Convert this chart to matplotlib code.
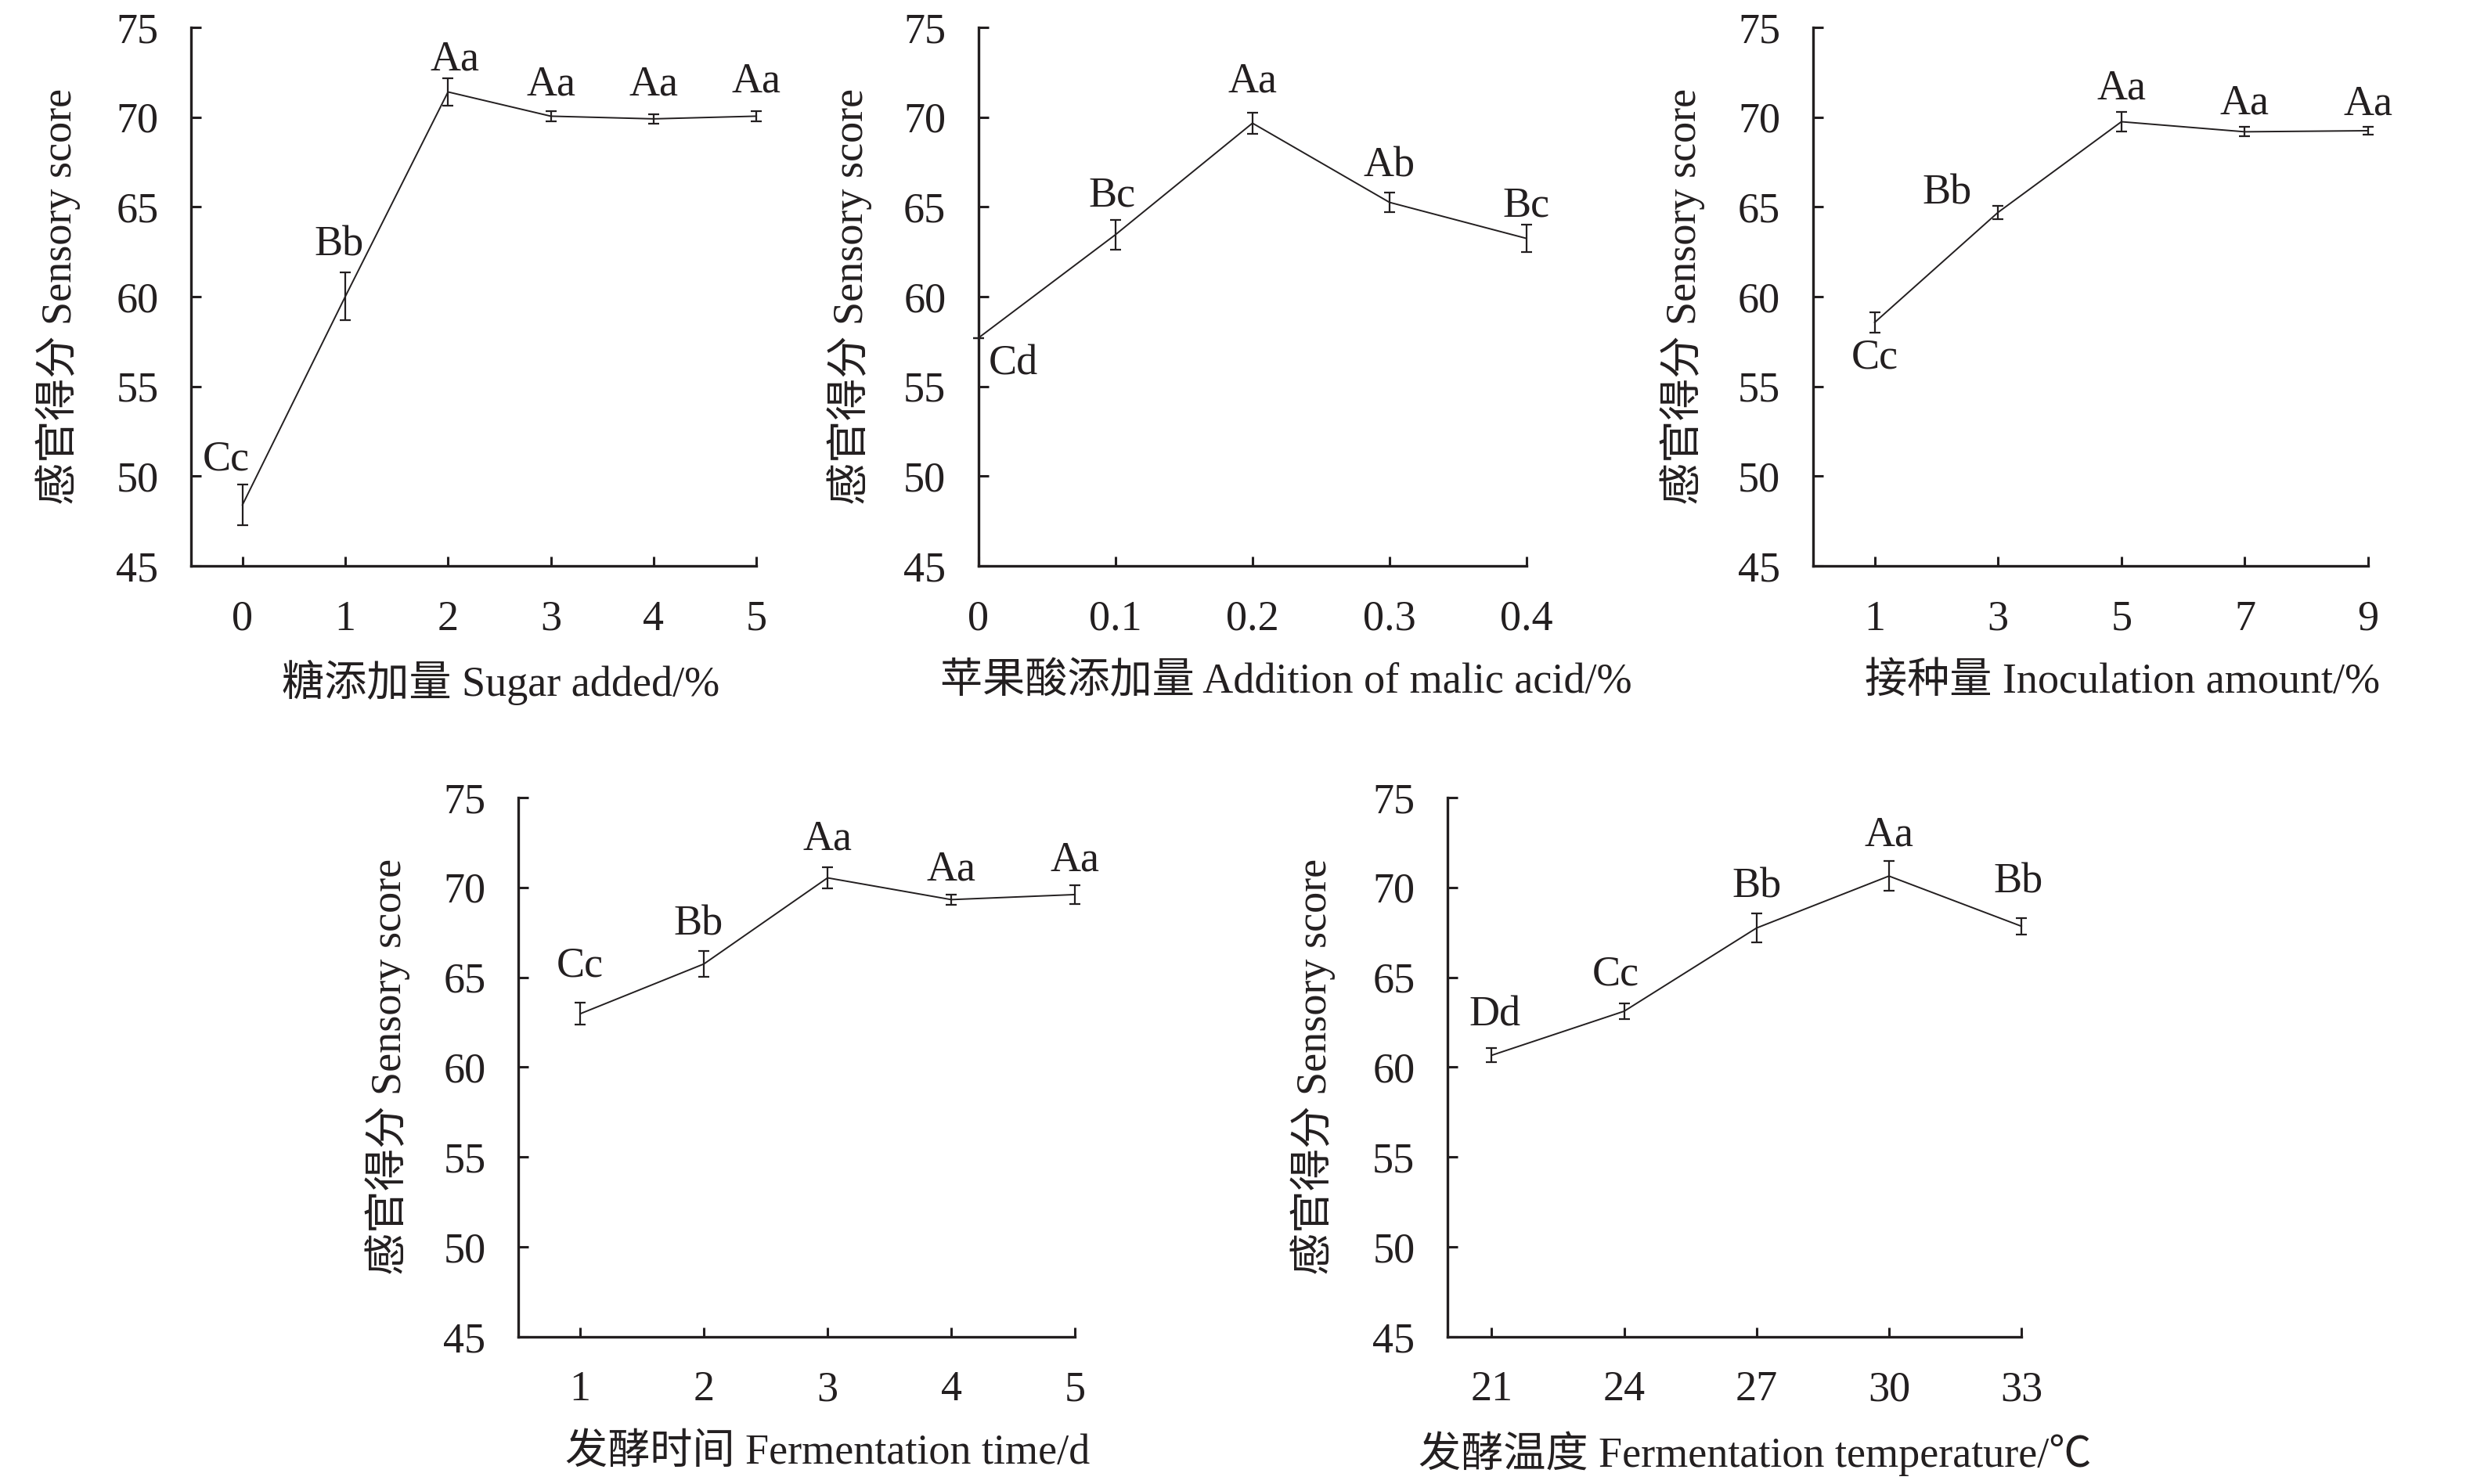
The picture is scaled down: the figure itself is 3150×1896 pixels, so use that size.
import numpy as np
import matplotlib
matplotlib.use("Agg")
import matplotlib.pyplot as plt

plt.rcParams['font.family'] = ['Liberation Serif', 'Noto Sans CJK SC']
plt.rcParams['font.size'] = 39

ink = '#231f20'

# data (mean, error)
sugar_x = [0, 1, 2, 3, 4, 5]
sugar_y = [48.4, 60.0, 71.4, 70.05, 69.9, 70.05]
sugar_err = [1.14, 1.33, 0.77, 0.3, 0.27, 0.3]
sugar_lab = ["Cc", "Bb", "Aa", "Aa", "Aa", "Aa"]

malic_x = [0, 0.1, 0.2, 0.3, 0.4]
malic_y = [57.7, 63.45, 69.66, 65.25, 63.24]
malic_err = [0.0, 0.82, 0.6, 0.55, 0.77]
malic_lab = ["Cd", "Bc", "Aa", "Ab", "Bc"]

inoc_x = [1, 3, 5, 7, 9]
inoc_y = [58.56, 64.69, 69.74, 69.18, 69.24]
inoc_err = [0.57, 0.38, 0.55, 0.26, 0.22]
inoc_lab = ["Cc", "Bb", "Aa", "Aa", "Aa"]

time_x = [1, 2, 3, 4, 5]
time_y = [62.97, 65.74, 70.53, 69.32, 69.6]
time_err = [0.6, 0.72, 0.57, 0.29, 0.51]
time_lab = ["Cc", "Bb", "Aa", "Aa", "Aa"]

temp_x = [21, 24, 27, 30, 33]
temp_y = [60.66, 63.11, 67.74, 70.63, 67.84]
temp_err = [0.39, 0.42, 0.82, 0.82, 0.46]
temp_lab = ["Dd", "Cc", "Bb", "Aa", "Bb"]

xlabels = ["糖添加量 Sugar added/%",
           "苹果酸添加量 Addition of malic acid/%",
           "接种量 Inoculation amount/%",
           "发酵时间 Fermentation time/d",
           "发酵温度 Fermentation temperature/℃"]
ylabel = "感官得分 Sensory score"

# label offsets (points) from error bar end
off1 = [(-15, 23), (-6, 25), (6, 17), (0, 24), (0, 27), (0, 27)]
off2 = [(32, -24), (-3, 22), (0, 28), (0, 24), (0, 17)]
off3 = [(0, -23), (-47, 11), (0, 21), (0, 22), (0, 21)]
off4 = [(0, 34), (-5, 24), (0, 26), (0, 23), (0, 23)]
off5 = [(3, 30), (-8, 27), (0, 24), (0, 24), (-3, 33)]

fig = plt.figure(figsize=(31.5, 18.96), dpi=100)

panels = [
    ([0.0775, 0.6187, 0.2292, 0.3629], sugar_x, sugar_y, sugar_err, sugar_lab, off1,
     (-0.5, 5), sugar_x, ["0", "1", "2", "3", "4", "5"], 0.548),
    ([0.3968, 0.6187, 0.2222, 0.3629], malic_x, malic_y, malic_err, malic_lab, off2,
     (0, 0.4), malic_x, ["0", "0.1", "0.2", "0.3", "0.4"], 0.561),
    ([0.7352, 0.6187, 0.2251, 0.3629], inoc_x, inoc_y, inoc_err, inoc_lab, off3,
     (0, 9), inoc_x, ["1", "3", "5", "7", "9"], 0.557),
    ([0.2102, 0.0992, 0.2257, 0.3634], time_x, time_y, time_err, time_lab, off4,
     (0.5, 5), time_x, ["1", "2", "3", "4", "5"], 0.556),
    ([0.5870, 0.0992, 0.2327, 0.3634], temp_x, temp_y, temp_err, temp_lab, off5,
     (20, 33), temp_x, ["21", "24", "27", "30", "33"], 0.535),
]

for i, (rect, x, y, e, lab, off, xlim, xt, xtl, xlc) in enumerate(panels):
    ax = fig.add_axes(rect)
    ax.errorbar(x, y, yerr=e, fmt='-', color=ink, lw=1.4,
                elinewidth=1.6, capsize=5, capthick=1.6, clip_on=False)
    for xi, yi, ei, s, (dx, dy) in zip(x, y, e, lab, off):
        yy = yi + ei if dy > 0 else yi - ei
        ax.annotate(s, (xi, yy), xytext=(dx, dy), textcoords='offset points',
                    ha='center', va='center', color=ink)
    ax.set_xlim(*xlim)
    ax.set_ylim(45, 75)
    ax.set_yticks(np.arange(45, 76, 5))
    ax.set_xticks(xt)
    ax.set_xticklabels(xtl)
    for sp in ['top', 'right']:
        ax.spines[sp].set_visible(False)
    for sp in ['left', 'bottom']:
        ax.spines[sp].set_linewidth(2.4)
        ax.spines[sp].set_color(ink)
    ax.tick_params(axis='both', direction='in', length=9, width=2.2, colors=ink)
    ax.tick_params(axis='x', pad=31)
    ax.tick_params(axis='y', pad=30)
    ax.set_xlabel(xlabels[i], va='center', color=ink)
    ax.xaxis.set_label_coords(xlc, -0.2166)
    ax.set_ylabel(ylabel, va='center', color=ink)
    ax.yaxis.set_label_coords(-0.235, 0.5)

fig.savefig("out.png", dpi=100)
